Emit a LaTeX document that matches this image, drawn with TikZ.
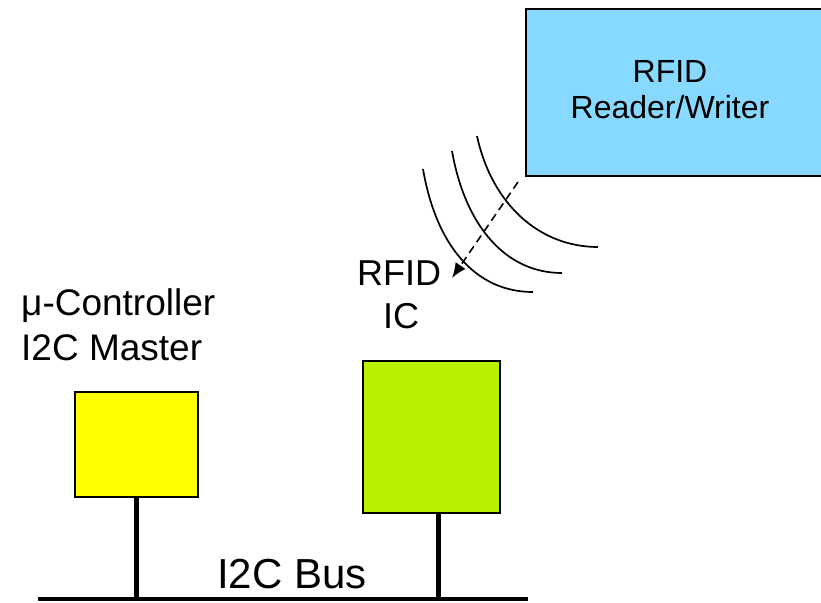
\documentclass[tikz,border=0pt]{standalone}
\usepackage{fontspec}
\setmainfont{Liberation Sans}
\usetikzlibrary{arrows.meta}
\definecolor{readerblue}{RGB}{135,217,255}
\definecolor{icgreen}{RGB}{184,240,0}
\definecolor{mcuyellow}{RGB}{255,255,0}
\tikzset{
  box/.style={draw=black, line width=2pt, inner sep=0pt, anchor=north west},
  lbl/.style={inner sep=0pt, anchor=base, text=black},
  wave/.style={line width=1.7pt},
  stem/.style={line width=5pt},
  busline/.style={line width=4pt},
  link/.style={line width=1.6pt, dash pattern=on 8pt off 5pt, -{Latex[length=15pt,width=12pt]}}
}
\begin{document}
\begin{tikzpicture}[x=1pt,y=-1pt]
\useasboundingbox (0,0) rectangle (821,602);
\clip (0,0) rectangle (821,602);
% boxes
\node[box, fill=readerblue, minimum width=310pt, minimum height=167pt] (reader) at (525,8) {};
\node[box, fill=mcuyellow, minimum width=123pt, minimum height=105pt] (mcu) at (74,391) {};
\node[box, fill=icgreen, minimum width=137pt, minimum height=152pt] (ic) at (362,360) {};
% texts
\node[lbl, font=\fontsize{32}{36}\selectfont] (t1) at (670,82) {RFID};
\node[lbl, font=\fontsize{32}{36}\selectfont] (t2) at (670,118) {Reader/Writer};
\node[lbl, font=\fontsize{36}{40}\selectfont] (t3) at (399,285) {RFID};
\node[lbl, font=\fontsize{36}{40}\selectfont] (t4) at (401,328) {IC};
\node[lbl, anchor=base west, font=\fontsize{37}{42}\selectfont] (t5) at (21,315) {μ-Controller};
\node[lbl, anchor=base west, font=\fontsize{37}{42}\selectfont] (t6) at (21,360) {I2C Master};
\node[lbl, anchor=base west, font=\fontsize{42}{48}\selectfont] (t7) at (217,588) {I2C Bus};
% waves
\draw[wave] (477,136) .. controls (492,205) and (540,247) .. (598,247);
\draw[wave] (452,151) .. controls (465,225) and (505,273) .. (562,273);
\draw[wave] (423,169) .. controls (436,245) and (475,292) .. (533,292);
% dashed link
\coordinate (rs) at (518,182);
\coordinate (tip) at (452,278);
\draw[link] (rs) -- (tip);
% bus
\coordinate (busL) at (38,599);
\coordinate (busR) at (528,599);
\draw[busline] (busL) -- (busR);
\draw[stem] (mcu.south) -- (mcu.south |- busL);
\draw[stem] (ic.south -| 438,0) -- (438,599);
\end{tikzpicture}
\end{document}
